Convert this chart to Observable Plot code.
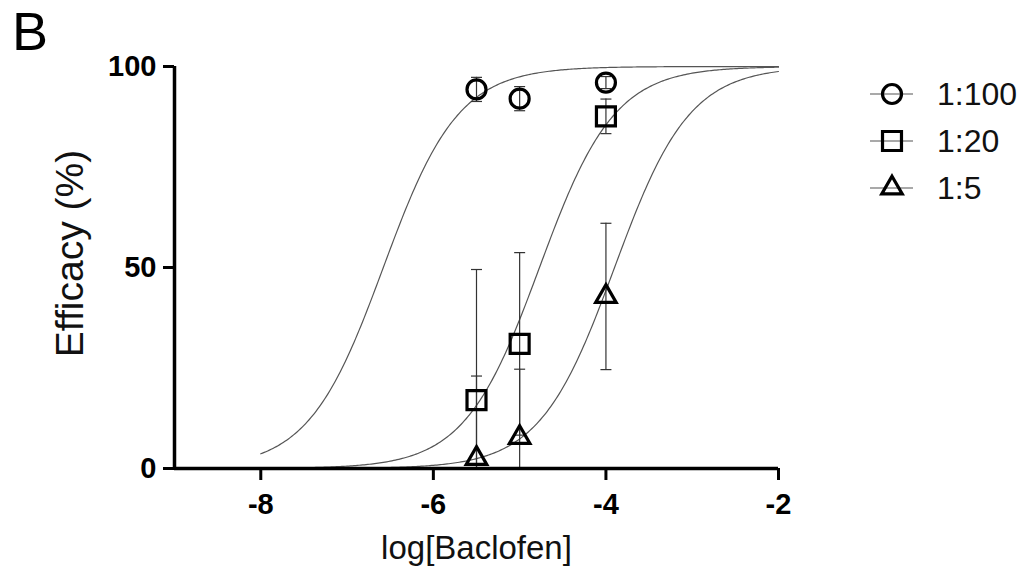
<!DOCTYPE html>
<html>
<head>
<meta charset="utf-8">
<script src="https://cdn.jsdelivr.net/npm/d3@7"></script>
<script src="https://cdn.jsdelivr.net/npm/@observablehq/plot@0.6"></script>
<style>
  html, body { margin: 0; padding: 0; background: #fff; }
  #wrap { position: relative; width: 1024px; height: 571px; font-family: "Liberation Sans", Arial, sans-serif; }
  #panel { position: absolute; left: 12px; top: 0px; font-size: 54px; color: #000; }
  #legend { position: absolute; left: 862px; top: 68px; }
</style>
</head>
<body>
<div id="wrap">
  <div id="chart"></div>
  <div id="panel">B</div>
  <svg id="legend" width="162" height="150"></svg>
</div>
<script>
// ---- data ----
const seriesNames = ["1:100", "1:20", "1:5"];
const logConc = [-5.5, -5, -4];
const mean100 = [94.3, 92.0, 96.0];
const sd100   = [3.0, 3.0, 1.5];
const mean20  = [17.0, 31.0, 87.6];
const sd20    = [32.5, 22.7, 4.3];
const mean5   = [2.5, 7.7, 42.8];
const sd5     = [20.5, 17.0, 18.2];
// fitted sigmoidal dose-response parameters
const fitLogEC50 = [-6.58, -4.77, -3.90];
const fitHill    = [1, 1, 1];
const fitTop     = [100, 100, 100];
const fitBottom  = [0, 0, 0];
const fitRange   = [-8, -2];
const xTicks = [-8, -6, -4, -2];
const yTicks = [0, 50, 100];

// ---- build tables ----
const means = [mean100, mean20, mean5];
const sds = [sd100, sd20, sd5];
const points = [];
seriesNames.forEach((s, i) => logConc.forEach((x, j) => {
  points.push({series: s, x, y: means[i][j], lo: means[i][j] - sds[i][j], hi: means[i][j] + sds[i][j]});
}));
const curves = [];
seriesNames.forEach((s, i) => {
  d3.range(fitRange[0], fitRange[1] + 1e-9, 0.02).forEach(x => {
    const y = fitBottom[i] + (fitTop[i] - fitBottom[i]) / (1 + Math.pow(10, (fitLogEC50[i] - x) * fitHill[i]));
    curves.push({series: s, x, y});
  });
});

const symbols = {"1:100": "circle", "1:20": "square", "1:5": "triangle"};
const radii = {"1:100": 9.5, "1:20": 10.7, "1:5": 7.6};
const capSymbol = { draw(ctx, size) { const w = 5.5; ctx.moveTo(-w, 0); ctx.lineTo(w, 0); } };

const marks = [
  Plot.line(curves, {x: "x", y: "y", z: "series", stroke: "#555", strokeWidth: 1.2}),
  Plot.ruleX(points, {x: "x", y1: "lo", y2: "hi", stroke: "#333", strokeWidth: 1.2, clip: true}),
  Plot.dot(points, {x: "x", y: "hi", symbol: capSymbol, stroke: "#333", strokeWidth: 1.2, clip: true}),
  Plot.dot(points, {x: "x", y: "lo", symbol: capSymbol, stroke: "#333", strokeWidth: 1.2, clip: true}),
];
seriesNames.forEach(s => {
  marks.push(Plot.dot(points.filter(d => d.series === s), {
    x: "x", y: "y", symbol: symbols[s], r: radii[s], stroke: "#000", strokeWidth: 3.2, fill: "none"
  }));
});
marks.push(
  Plot.ruleX([-9], {stroke: "#000", strokeWidth: 3.5}),
  Plot.ruleY([0], {stroke: "#000", strokeWidth: 3.5}),
  Plot.axisX({ticks: xTicks, tickFormat: d => String(d), tickSize: 12, tickPadding: 13, strokeWidth: 3,
              fontSize: 29, fontWeight: "bold", label: null}),
  Plot.axisY({ticks: yTicks, tickFormat: d => String(d), tickSize: 11, tickPadding: 7, strokeWidth: 3,
              fontSize: 29, fontWeight: "bold", label: null}),
  Plot.text(["log[Baclofen]"], {frameAnchor: "bottom", dy: 90, fontSize: 33, fill: "#111"}),
  Plot.text(["Efficacy (%)"], {frameAnchor: "left", textAnchor: "middle", dx: -104, dy: -14, rotate: -90, fontSize: 39, fill: "#111"})
);

const chart = Plot.plot({
  width: 1024, height: 571,
  marginLeft: 174, marginRight: 246, marginTop: 66, marginBottom: 103,
  x: {domain: [-9, -2]},
  y: {domain: [0, 100]},
  style: {fontFamily: "Liberation Sans, Arial, sans-serif", color: "#000", background: "#fff"},
  marks
});
document.getElementById("chart").appendChild(chart);

// ---- legend ----
const leg = d3.select("#legend");
seriesNames.forEach((s, i) => {
  const g = leg.append("g").attr("transform", `translate(0,${26 + i * 47})`);
  g.append("line").attr("x1", 8).attr("x2", 51).attr("stroke", "#555").attr("stroke-width", 1.2);
  const sym = {circle: d3.symbolCircle, square: d3.symbolSquare, triangle: d3.symbolTriangle}[symbols[s]];
  g.append("path").attr("transform", "translate(30,0)")
    .attr("d", d3.symbol(sym, Math.PI * radii[s] * radii[s])())
    .attr("fill", "none").attr("stroke", "#000").attr("stroke-width", 3.2);
  g.append("text").attr("x", 75).attr("dy", "0.35em").attr("font-size", 32)
    .attr("font-family", "Liberation Sans, Arial, sans-serif").attr("fill", "#111").text(s);
});
</script>
</body>
</html>
